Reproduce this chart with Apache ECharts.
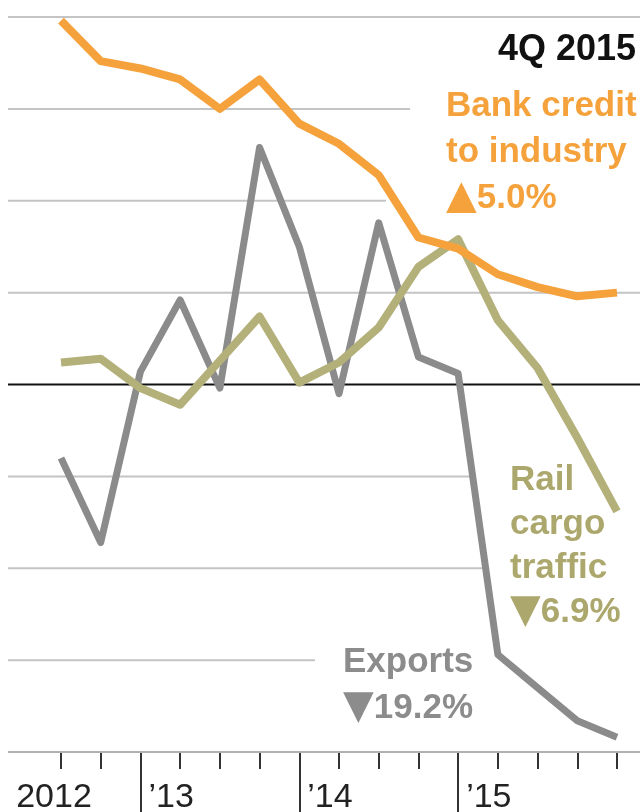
<!DOCTYPE html>
<html>
<head>
<meta charset="utf-8">
<script src="https://cdn.jsdelivr.net/npm/echarts@6/dist/echarts.min.js"></script>
<style>
html, body { margin: 0; padding: 0; background: #fff; }
#main { width: 644px; height: 812px; }
</style>
</head>
<body>
<div id="main"></div>
<script>
// quarter-end points, 2Q 2012 .. 4Q 2015 (year-on-year % change)
var quarters = ['2Q 2012', '3Q 2012', '4Q 2012', '1Q 2013', '2Q 2013', '3Q 2013', '4Q 2013',
  '1Q 2014', '2Q 2014', '3Q 2014', '4Q 2014', '1Q 2015', '2Q 2015', '3Q 2015', '4Q 2015'];
var bankCredit = [19.8, 17.6, 17.2, 16.6, 15.0, 16.6, 14.2, 13.1, 11.4, 8.0, 7.4, 6.0, 5.3, 4.8, 5.0];
var railCargo = [1.2, 1.4, -0.2, -1.1, 1.3, 3.7, 0.1, 1.2, 3.1, 6.4, 7.9, 3.5, 0.9, -2.9, -6.9];
var exportsYoY = [-4.0, -8.6, 0.7, 4.6, -0.2, 12.9, 7.5, -0.5, 8.8, 1.5, 0.6, -14.7, -16.5, -18.3, -19.2];

// year boundaries (index of the quarter that closes the previous year)
var yearTicks = [2, 6, 10];
var yearLabels = ['\u201913', '\u201914', '\u201915'];
var firstYear = '2012';

// horizontal rules: value and where each one stops on the right
var gridValues = [20, 15, 10, 5, -5, -10, -15];
var gridRight = [640, 410, 386, 640, 470, 485, 315];

var ORANGE = '#f5a23c';
var OLIVE = '#b4b07a';
var GRAY = '#8b8b8b';
var FONT = '"Liberation Sans", Arial, sans-serif';

var chart = echarts.init(document.getElementById('main'));

var option = {
  animation: false,
  backgroundColor: '#fff',
  grid: { left: 61, right: 27, top: 17, bottom: 60, containLabel: false, outerBoundsMode: 'none' },
  xAxis: [{
    type: 'category',
    data: quarters,
    boundaryGap: false,
    position: 'bottom',
    axisLine: { show: false, onZero: false },
    axisTick: { show: true, interval: 0, length: 17, lineStyle: { color: '#333', width: 2 } },
    axisLabel: {
      interval: function (i) { return yearTicks.indexOf(i) >= 0; },
      formatter: function (v, i) { return yearLabels[yearTicks.indexOf(i)] || ''; },
      align: 'left',
      padding: [0, 0, 0, 8],
      margin: 29,
      fontFamily: FONT,
      fontSize: 34,
      lineHeight: 34,
      color: '#222'
    },
    splitLine: { show: false }
  }, {
    type: 'category',
    data: quarters,
    boundaryGap: false,
    position: 'bottom',
    axisLine: { show: false, onZero: false },
    axisTick: {
      show: true,
      interval: function (i) { return yearTicks.indexOf(i) >= 0; },
      length: 62,
      lineStyle: { color: '#333', width: 2 }
    },
    axisLabel: {
      interval: function (i) { return i === 0; },
      formatter: function () { return firstYear; },
      align: 'center',
      padding: [0, 14, 0, 0],
      margin: 29,
      fontFamily: FONT,
      fontSize: 34,
      lineHeight: 34,
      color: '#222'
    },
    splitLine: { show: false }
  }],
  yAxis: {
    type: 'value',
    min: -20,
    max: 20,
    interval: 5,
    show: false
  },
  series: [{
    name: 'Exports',
    type: 'line',
    data: exportsYoY,
    showSymbol: false,
    z: 3,
    lineStyle: { color: GRAY, width: 7, join: 'round' }
  }, {
    name: 'Rail cargo traffic',
    type: 'line',
    data: railCargo,
    showSymbol: false,
    z: 4,
    lineStyle: { color: OLIVE, width: 8, join: 'round' }
  }, {
    name: 'Bank credit to industry',
    type: 'line',
    data: bankCredit,
    showSymbol: false,
    z: 5,
    lineStyle: { color: ORANGE, width: 8, join: 'round' }
  }]
};

chart.setOption(option);

// rules drawn from the y scale so they can stop short of the labels
var graphics = [];
gridValues.forEach(function (v, i) {
  var y = chart.convertToPixel({ yAxisIndex: 0 }, v);
  graphics.push({
    type: 'line', silent: true, z: 0,
    shape: { x1: 8, y1: y, x2: gridRight[i], y2: y },
    style: { stroke: '#c4c4c4', lineWidth: 2 }
  });
});
var y0 = chart.convertToPixel({ yAxisIndex: 0 }, 0);
graphics.push({
  type: 'line', silent: true, z: 1,
  shape: { x1: 8, y1: y0, x2: 640, y2: y0 },
  style: { stroke: '#111', lineWidth: 2 }
});
var yb = chart.convertToPixel({ yAxisIndex: 0 }, -20);
graphics.push({
  type: 'line', silent: true, z: 1,
  shape: { x1: 8, y1: yb, x2: 640, y2: yb },
  style: { stroke: '#b0b0b0', lineWidth: 2 }
});

function label(text, x, y, color, align, size, lh) {
  lh = lh || 44;
  return {
    type: 'text', silent: true, z: 10,
    style: {
      text: text, x: x, y: y,
      fill: color,
      font: 'bold ' + (size || 35) + 'px ' + FONT,
      lineHeight: lh,
      textAlign: align || 'left',
      textVerticalAlign: 'top',
      rich: {
        t: { fontFamily: '"DejaVu Sans"', fontSize: 40, fontWeight: 'bold', lineHeight: lh, fill: color }
      }
    }
  };
}
graphics.push(label('4Q 2015', 636, 28, '#111', 'right', 36));
graphics.push(label('Bank credit\nto industry\n{t|\u25B2}5.0%', 446, 83, ORANGE, 'left', 35, 46));
graphics.push(label('Rail\ncargo\ntraffic\n{t|\u25BC}6.9%', 510, 458, '#aca76c'));
graphics.push(label('Exports\n{t|\u25BC}19.2%', 343, 639, '#8c8c8c', 'left', 35, 46));

chart.setOption({ graphic: graphics });
</script>
</body>
</html>
